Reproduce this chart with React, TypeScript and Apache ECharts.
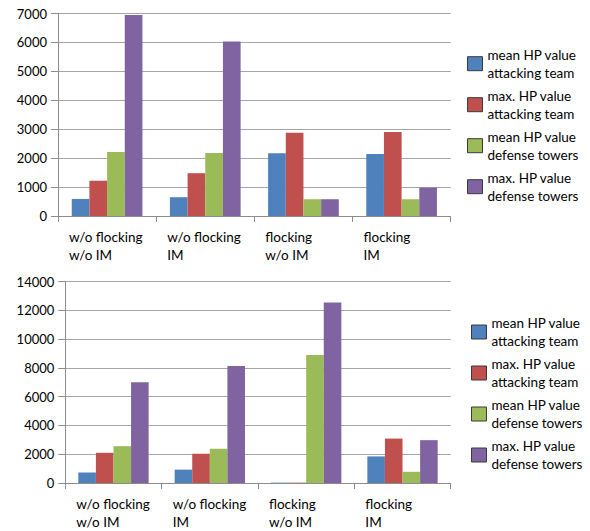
import React, { useEffect, useRef } from "react";
import * as echarts from "echarts";

// Scenario groups (two-line axis labels)
const categories = [
  "w/o flocking\nw/o IM",
  "w/o flocking\nIM",
  "flocking\nw/o IM",
  "flocking\nIM",
];

// Series names (two-line legend entries)
const seriesNames = [
  "mean HP value\nattacking team",
  "max. HP value\nattacking team",
  "mean HP value\ndefense towers",
  "max. HP value\ndefense towers",
];

const seriesColors = ["#4F81BD", "#C0504D", "#9BBB59", "#8064A2"];

// Upper chart values, one array per series
const topMeanAttack = [590, 650, 2170, 2140];
const topMaxAttack = [1220, 1480, 2880, 2900];
const topMeanTowers = [2210, 2180, 580, 580];
const topMaxTowers = [6950, 6030, 580, 980];

// Lower chart values, one array per series
const bottomMeanAttack = [730, 930, 25, 1850];
const bottomMaxAttack = [2100, 2030, 25, 3090];
const bottomMeanTowers = [2560, 2380, 8900, 780];
const bottomMaxTowers = [7000, 8130, 12550, 2980];

// Value-axis ranges
const topMax = 7000;
const topInterval = 1000;
const bottomMax = 14000;
const bottomInterval = 2000;

const FONT = "Lato";
const AXIS_GRAY = "#8c8c8c";
const GRID_GRAY = "#a6a6a6";

function valueAxis(gridIndex: number, max: number, interval: number) {
  return {
    type: "value",
    gridIndex,
    min: 0,
    max,
    interval,
    axisLine: { show: true, lineStyle: { color: AXIS_GRAY, width: 1 } },
    axisTick: { show: true, length: 7, lineStyle: { color: AXIS_GRAY } },
    splitLine: { show: true, lineStyle: { color: GRID_GRAY, width: 1 } },
    axisLabel: {
      margin: 11,
      color: "#000",
      fontFamily: FONT,
      fontSize: 13,
      formatter: (v: number) => String(v),
    },
  };
}

function categoryAxis(gridIndex: number) {
  return {
    type: "category",
    gridIndex,
    data: categories,
    axisLine: { show: true, lineStyle: { color: AXIS_GRAY, width: 1 } },
    axisTick: { show: true, length: 6, lineStyle: { color: AXIS_GRAY } },
    axisLabel: { show: false },
  };
}

// Companion axis that places each label at the left edge of its category
function labelAxis(gridIndex: number) {
  return {
    type: "value",
    gridIndex,
    min: 0,
    max: categories.length,
    interval: 1,
    position: "bottom",
    axisLine: { show: false },
    axisTick: { show: false },
    splitLine: { show: false },
    axisLabel: {
      align: "left",
      margin: 12,
      padding: [0, 0, 0, 11],
      lineHeight: 18,
      color: "#000",
      fontFamily: FONT,
      fontSize: 13.5,
      formatter: (v: number) => categories[v] ?? "",
    },
  };
}

function legend(left: number, top: number) {
  return {
    orient: "vertical",
    left,
    top,
    padding: 0,
    itemGap: -13,
    itemWidth: 15,
    itemHeight: 14,
    icon: "rect",
    itemStyle: { borderColor: "#3a3a3a", borderWidth: 1 },
    textStyle: {
      color: "#000",
      fontFamily: FONT,
      fontSize: 13.5,
      lineHeight: 18,
      padding: [18, 0, 0, 0],
    },
    data: seriesNames,
  };
}

function bars(values: number[][], xAxisIndex: number, yAxisIndex: number, gap: string) {
  return values.map((data, i) => ({
    type: "bar",
    name: seriesNames[i],
    xAxisIndex,
    yAxisIndex,
    data,
    barGap: "0%",
    barCategoryGap: gap,
    itemStyle: { color: seriesColors[i] },
  }));
}

export default function App() {
  const ref = useRef<HTMLDivElement>(null);

  useEffect(() => {
    document.body.style.margin = "0";
    if (!ref.current) return;
    const chart = echarts.init(ref.current, undefined, { renderer: "svg" });
    chart.setOption({
      animation: false,
      backgroundColor: "#fff",
      grid: [
        { left: 58, top: 13.5, width: 392.7, height: 202.5 },
        { left: 65.3, top: 281.7, width: 385.4, height: 203.6 },
      ],
      xAxis: [categoryAxis(0), labelAxis(0), categoryAxis(1), labelAxis(1)],
      yAxis: [valueAxis(0, topMax, topInterval), valueAxis(1, bottomMax, bottomInterval)],
      legend: [legend(467, 36.7), legend(471, 305)],
      series: [
        ...bars([topMeanAttack, topMaxAttack, topMeanTowers, topMaxTowers], 0, 0, "28%"),
        ...bars(
          [bottomMeanAttack, bottomMaxAttack, bottomMeanTowers, bottomMaxTowers],
          2,
          1,
          "27%"
        ),
      ],
    });
    return () => chart.dispose();
  }, []);

  return <div ref={ref} style={{ width: 590, height: 531 }} />;
}
